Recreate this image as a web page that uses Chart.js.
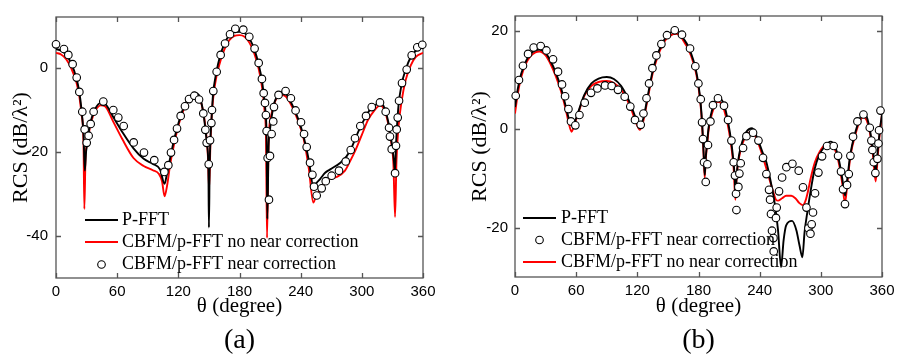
<!DOCTYPE html>
<html><head><meta charset="utf-8">
<script src="https://cdn.jsdelivr.net/npm/chart.js@4.4.1/dist/chart.umd.min.js"></script>
<style>
html,body{margin:0;padding:0;background:#fff;}
#wrap{position:relative;width:900px;height:361px;overflow:hidden;}
canvas{position:absolute;top:0;}
#ca{left:0;}
#cb{left:450px;}
</style></head><body>
<div id="wrap"><canvas id="ca" width="450" height="361"></canvas><canvas id="cb" width="450" height="361"></canvas></div>
<script>
// ---------- Panel (a) ----------
const aBlackT = [0,5,10,15,20,23,25,27,28.3,29.5,31,33,35,38,44,48,56,65,76,86,95,102,106.5,109,112,116,121,126,131,136,140,144,146.5,148,149.5,150,150.7,151.5,152.5,154,157,161,165,170,175,180,185,190,195,199,202,204,205.5,206.6,207.3,208.5,210,212,214,218,222,226,232,238,243,248,252.5,256,259,264,269,279,285,290,296,302,308,313,318,322,326,329,331,332.6,333.5,334.5,336,339,343,348,353,360];
const aBlackV = [4.4,4.0,3.0,1.0,-2.5,-6,-10,-16,-24.5,-20,-17.5,-14,-12,-10,-8.4,-8.6,-11.7,-15.3,-19.2,-21.7,-22.9,-24.2,-27.6,-25,-21.5,-17,-12.5,-9,-7,-6,-6.5,-10,-14.5,-18,-24,-38,-24,-17,-12.5,-6.5,-1.5,2.8,5.5,7.7,8.4,8.5,8.2,6.8,4,0.5,-3,-7,-10.5,-17,-36,-19,-14.5,-11,-8.5,-6.5,-5.8,-6.3,-9,-12.5,-16.5,-22,-28.3,-27.3,-26.5,-25,-24.2,-22.6,-21.1,-19,-15.5,-12.5,-10,-9,-8.2,-9.5,-13,-17.5,-21,-24.5,-18.5,-14,-9,-4,-0.5,2.5,4,5];
const aRedT = [0,5,10,15,20,23,25,27,27.8,29,31,33,35,38,44,48,56,65,76,86,95,101,104,106.5,109,112,116,121,126,131,136,140,144,147,149,150.2,151.5,153,156,160,165,170,175,180,185,190,195,199,202,204.5,206,207,208.5,211,215,221,226,232,238,243,248,252.4,255,259,265.5,275.3,283.5,288.4,294,300,306,312,318,322,326,329,331,332.6,334,336,339,343,348,353,360];
const aRedV = [3.5,3.1,2,-0.2,-3.5,-7,-11,-18,-33.6,-21,-18,-14.5,-12.5,-10.5,-9,-9.2,-12.8,-17,-21.5,-23.4,-24.4,-25.3,-27,-30.6,-28,-23,-18,-13,-9.5,-7.5,-6.5,-7,-10,-15,-21,-29,-18,-10.5,-4,0.5,4.2,6.5,7.5,7.7,7.3,5.8,3,-0.5,-4.5,-10,-17,-40.5,-18,-11.5,-8,-6.5,-7,-9.5,-13,-17,-24,-32.1,-30.5,-29.1,-26.8,-26,-24.5,-22.3,-19.5,-16,-12.5,-10.3,-9,-10,-13.5,-18,-23,-35.5,-22,-14,-8,-3,0.5,2.5,3.5];
const aCircT = [0,7.8,12.1,16.3,20.3,22.9,25.8,28.1,30.1,32,34,36.9,46.4,56.2,61.1,66.4,76.2,86.3,96.4,106.3,110.2,112.8,115.8,118.7,122.3,126.5,130.5,135.7,140.3,144.5,146.5,147.8,149.8,151.1,152.4,153,154.3,157.6,161.5,165.8,170.7,175.9,183.7,189.6,194.8,198.8,202,203.7,205,205.9,206.6,207.6,208.9,209.9,211.5,213.1,213.8,218.3,225.2,230.4,235,240.3,243.3,245.9,249.2,251.5,253.1,255.7,260.6,264.6,270.4,277.6,284.2,289.1,293.3,298.5,304.1,309.7,317.8,323.4,326.7,327.6,329.3,332.6,333.5,334.2,335.2,336.5,339.4,344,348.9,354.4,359.3];
const aCircV = [5.5,4.4,3.0,0.8,-2.4,-5.8,-10.5,-14.7,-17.9,-16.2,-13.4,-10.5,-8.1,-10.1,-11.9,-13.9,-17.8,-20.2,-22,-24.8,-23.2,-20.2,-17.2,-14.5,-11.5,-9.2,-7.5,-6.7,-7.6,-10.9,-14.8,-17.9,-23,-17.3,-13.2,-10.1,-5.6,-1,3.0,5.7,7.9,9.2,9.0,7.3,4.5,1.1,-2.7,-6.1,-8.4,-11.3,-15.1,-21.5,-31.4,-21,-15.8,-12.8,-9.4,-6.5,-5.6,-7.3,-10.2,-13,-15.8,-18.9,-22.6,-25.5,-28.3,-30.4,-28.7,-27,-25.7,-24.5,-22.3,-19.6,-16.8,-13.9,-11.5,-9.4,-8.3,-10.5,-14.3,-16.4,-19.4,-25.1,-18.6,-14.7,-11.9,-7.9,-3.7,-0.5,2.9,4.8,5.4];

// ---------- Panel (b) ----------
const bBlackT = [0,3,6,10,15,20,24,30,35,40,45,50,53,55.5,58,62,68,75,82,90,97,104,110,115,119,122.5,126,130,135,140,145,150,155,158,162,165,170,175,178,180,182,183.5,184.5,185.3,186.1,187,188.5,190,192,195,199,205,209,212.3,214.5,215.6,216.2,217.5,220,223,227,232.5,238,243,246.6,251,254.8,258,261,263.5,266,271.8,276,279,281.9,284,287,290,294,299,304,309.5,314,318,321,323.8,326,329,334,338,341.5,345,348,351,353.8,356,358,360];
const bBlackV = [4.5,8.5,11.2,13.5,15.3,16,16.2,15.5,13.8,11.5,8.5,4.5,2,0.8,1.2,3.5,7,9.3,10.3,10.6,10.2,8.8,6.6,4.2,2,0.8,2.3,6.5,11.8,15.3,17.7,19.2,19.9,20,19.5,18.5,16.8,14,11.5,9,5.5,1.5,-2.5,-6,-9.3,-6,-2.5,0.5,2.8,5,6.5,5,1.5,-2.8,-7,-10,-13.8,-9,-5,-2.5,-0.5,0.2,-2,-4.8,-6.7,-10.8,-15.1,-20.5,-28,-22.5,-19.5,-18.6,-20.5,-23.5,-26,-21,-16.5,-12.5,-8,-5,-3.4,-2.5,-3.5,-6.5,-10,-13.5,-10,-5,-0.5,2,3.3,2.5,0,-4,-8.6,-4,0,3];
const bRedT = [0,3,6,10,15,20,24,30,35,40,45,50,53,55.5,58,62,68,75,82,90,97,104,110,115,119,122.5,126,130,135,140,145,150,155,158,162,165,170,175,178,180,182,183.5,184.5,185.3,186.1,187,188.5,190,192,195,199,203,207,210,212.5,214.5,216.2,217.5,220,223,227,232.5,238,243,248,253,256,258,262,266,271,275,279,282.5,285,287.5,290,294,299,304,309.5,314,318,321,323.7,326,329,334,338,341.5,345,348,351,353.8,356,358,360];
const bRedV = [3.2,7.5,10.5,13,14.8,15.6,15.8,15,13.2,10.8,7.8,3.8,1,-0.5,0.8,3.2,6.8,8.8,9.6,9.8,9.4,8.1,6,3.5,1.2,-0.1,1.8,6,11.3,14.8,17.2,18.7,19.3,19.4,19,18,16.3,13.5,11,8.5,5,1,-3,-6.5,-9.8,-6.5,-3,0,2.2,4.3,5.6,5,2.5,-0.5,-4,-8,-14.3,-9.5,-5.5,-3,-1.2,-0.5,-2.5,-5.5,-9,-12.5,-14.3,-14.5,-14,-13.5,-13.5,-14,-15,-15.4,-14.5,-12.5,-10,-6.8,-4.5,-3.2,-3,-4.2,-7.2,-11,-15,-11,-5.5,-1,1.5,2.5,1.8,-0.5,-5,-10.6,-5,-0.5,3];
const bCircT = [0.7,3.9,7.8,12.8,18.3,25.2,30.8,37.3,42.2,46.1,49.1,52.4,54.9,59.2,63.2,68.4,74.6,80.8,88.3,94.8,101,107.6,113.1,117.7,123.3,126,129,131.5,134.8,138.7,143.6,149.1,156.7,163.8,171.7,176.9,179.9,182.2,183.5,184.4,185.4,187.1,188.7,189.3,191.7,194.2,199.1,205,209,212.3,214.5,215.8,216.8,217.2,219.1,220.1,221.4,223.7,227,233.5,238.8,243.3,246.6,249.2,250.2,251.1,252.1,253.5,253.8,256,256.7,259,262,266.2,272.1,278.3,282.5,285.9,287.8,289.8,291,292.3,294.3,297.6,301.2,306.1,312.6,316.9,319.8,321.8,323.7,325.7,327.4,329,331.6,335.9,341.8,348,349.6,350.6,351.9,353.5,355.5,356.5,357.1,358.5];
const bCircV = [6.8,10,12.9,15.3,16.6,16.9,16,14.2,11.7,9.1,6.7,4.1,1.6,0.8,2.9,5.4,7.4,8.3,8.9,8.8,8.0,6.6,4.6,1.9,0.9,3.2,6.3,9.3,12.4,15,17.3,19.1,20.1,19.2,16.4,12.8,9.3,6.1,1.4,-2.0,-6.7,-10.7,-7.1,-3.2,1.6,4.9,6.3,4.8,1.9,-2.3,-6.7,-9.4,-13.1,-16.4,-11.7,-9.0,-6.9,-3.8,-1.4,-0.7,-2.3,-5.8,-9.1,-12.3,-14.3,-17.2,-20.6,-22.1,-24.8,-18,-15.9,-12.6,-9.8,-7.7,-7,-8.4,-11.8,-15.9,-20.1,-21.2,-19.3,-16.9,-13,-8.8,-5.5,-3.4,-3.4,-5.4,-8.6,-12.2,-15.2,-11.3,-9.1,-5.4,-1.5,1.6,3.0,0.3,-2.3,-4.2,-6.7,-8.9,-6.0,-2.9,-0.2,3.8];

const xTickStep = 60;
const yTickStep = 20;

const pts = (t, v) => t.map((x, i) => ({x: x, y: v[i]}));

const SERIF = "'Liberation Serif','Times New Roman',serif";
const SANS = "'Liberation Sans',Arial,sans-serif";

// frame with inward ticks on all four sides
const framePlugin = {
  id: 'frameTicks',
  beforeDatasetsDraw(chart) {
    const {ctx, chartArea: a, scales} = chart;
    ctx.save();
    ctx.strokeStyle = '#555';
    ctx.lineWidth = 1.3;
    ctx.strokeRect(a.left, a.top, a.right - a.left, a.bottom - a.top);
    const L = 5;
    ctx.beginPath();
    scales.x.ticks.forEach(t => {
      const p = Math.round(scales.x.getPixelForValue(t.value)) + 0.5;
      ctx.moveTo(p, a.bottom); ctx.lineTo(p, a.bottom - L);
      ctx.moveTo(p, a.top); ctx.lineTo(p, a.top + L);
    });
    scales.y.ticks.forEach(t => {
      const p = Math.round(scales.y.getPixelForValue(t.value)) + 0.5;
      ctx.moveTo(a.left, p); ctx.lineTo(a.left + L, p);
      ctx.moveTo(a.right, p); ctx.lineTo(a.right - L, p);
    });
    ctx.stroke();
    ctx.restore();
  }
};

// legend drawn inside the plot area
const legendPlugin = {
  id: 'insideLegend',
  afterDatasetsDraw(chart, args, o) {
    const ctx = chart.ctx;
    ctx.save();
    ctx.font = '18px ' + SERIF;
    ctx.textBaseline = 'middle';
    ctx.fillStyle = '#000';
    o.items.forEach((di, k) => {
      const ds = chart.data.datasets[di];
      const y = o.ys[k];
      if (ds.showLine === false) {
        ctx.beginPath();
        ctx.arc((o.x0 + o.x1) / 2, y, ds.pointRadius, 0, Math.PI * 2);
        ctx.fillStyle = '#fff'; ctx.fill();
        ctx.lineWidth = ds.pointBorderWidth; ctx.strokeStyle = ds.pointBorderColor; ctx.stroke();
      } else {
        ctx.beginPath();
        ctx.moveTo(o.x0, y); ctx.lineTo(o.x1, y);
        ctx.lineWidth = ds.borderWidth; ctx.strokeStyle = ds.borderColor; ctx.stroke();
      }
      ctx.fillStyle = '#000';
      ctx.fillText(ds.label, o.tx, y);
    });
    ctx.restore();
  }
};

function makeChart(id, d, cfg) {
  return new Chart(document.getElementById(id), {
    type: 'line',
    data: {datasets: [
      {label: 'CBFM/p-FFT near correction', data: pts(d.cT, d.cV), showLine: false,
       pointRadius: 3.8, pointBackgroundColor: '#fff', pointBorderColor: '#000', pointBorderWidth: 1.1,
       pointHoverRadius: 3.8, order: 0, clip: false},
      {label: 'P-FFT', data: pts(d.kT, d.kV), borderColor: '#000', borderWidth: 1.9,
       pointRadius: 0, cubicInterpolationMode: 'monotone', order: 1, fill: false},
      {label: 'CBFM/p-FFT no near correction', data: pts(d.rT, d.rV), borderColor: '#ff0000', borderWidth: 1.9,
       pointRadius: 0, cubicInterpolationMode: 'monotone', order: 2, fill: false}
    ]},
    options: {
      responsive: false, animation: false, devicePixelRatio: 1,
      events: [],
      layout: {padding: {left: 0, right: cfg.padRight, top: cfg.padTop, bottom: 0}},
      scales: {
        x: {type: 'linear', min: 0, max: 360,
            afterFit: s => { s.height = cfg.xH; },
            ticks: {stepSize: xTickStep, autoSkip: false, maxRotation: 0, padding: 5,
                    color: '#000', font: {family: SANS, size: 15}},
            grid: {display: false, drawTicks: false}, border: {display: false},
            title: {display: true, text: 'θ (degree)', color: '#000',
                    font: {family: SERIF, size: 21}, padding: {top: 0, bottom: 4}}},
        y: {type: 'linear', min: cfg.yMin, max: cfg.yMax,
            afterFit: s => { s.width = cfg.yW; },
            ticks: {stepSize: yTickStep, includeBounds: false, padding: cfg.yPad,
                    color: '#000', font: {family: SANS, size: 15},
                    callback: v => (v % yTickStep === 0 ? String(v) : '')},
            grid: {display: false, drawTicks: false}, border: {display: false},
            title: {display: true, text: 'RCS (dB/λ²)', color: '#000',
                    font: {family: SERIF, size: 22}, padding: {top: cfg.yTitlePad, bottom: 0}}}
      },
      plugins: {
        legend: {display: false},
        tooltip: {enabled: false},
        title: {display: true, text: cfg.panel, position: 'bottom', fullSize: false, color: '#000',
                font: {family: SERIF, size: 28, weight: 'normal', lineHeight: 1.2}, padding: {top: 0, bottom: 4}},
        insideLegend: cfg.legend
      }
    },
    plugins: [framePlugin, legendPlugin]
  });
}

makeChart('ca', {kT: aBlackT, kV: aBlackV, rT: aRedT, rV: aRedV, cT: aCircT, cV: aCircV}, {
  panel: '(a)', yMin: -50, yMax: 12, padRight: 27, padTop: 5, xH: 45.4, yW: 56, yPad: 8, yTitlePad: 8,
  legend: {x0: 85, x1: 118, tx: 122, ys: [220, 242, 264.5], items: [1, 2, 0]}
});
makeChart('cb', {kT: bBlackT, kV: bBlackV, rT: bRedT, rV: bRedV, cT: bCircT, cV: bCircV}, {
  panel: '(b)', yMin: -30, yMax: 23, padRight: 18, padTop: 4, xH: 46.4, yW: 65, yPad: 7, yTitlePad: 17,
  legend: {x0: 73, x1: 106, tx: 111, ys: [218, 240, 262], items: [1, 0, 2]}
});
</script>
</body></html>
